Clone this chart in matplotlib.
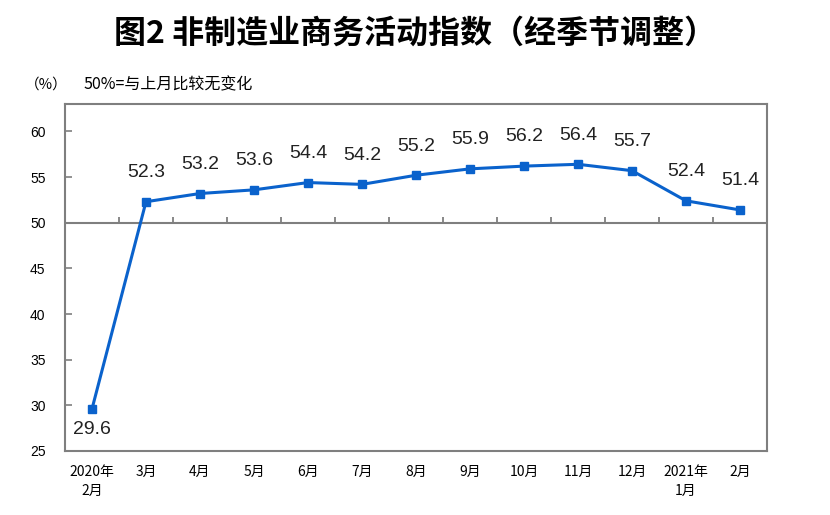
import matplotlib.pyplot as plt
import numpy as np

plt.rcParams['font.family'] = ['Noto Sans CJK SC', 'DejaVu Sans']

months = ['2020年\n2月', '3月', '4月', '5月', '6月', '7月', '8月', '9月',
          '10月', '11月', '12月', '2021年\n1月', '2月']
pmi = [29.6, 52.3, 53.2, 53.6, 54.4, 54.2, 55.2, 55.9, 56.2, 56.4, 55.7, 52.4, 51.4]
yticks = [25, 30, 35, 40, 45, 50, 55, 60]

blue = '#0A62CC'
frame = '#7F7F7F'

fig = plt.figure(figsize=(8.3, 5.15), dpi=100)
ax = fig.add_axes([0.0783, 0.1243, 0.8458, 0.6737])

x = np.arange(len(pmi))
ax.plot(x, pmi, color=blue, lw=2.2, marker='s', ms=6, zorder=3)

for i, v in enumerate(pmi):
    off = -15 if v < 50 else 21
    ax.annotate(f'{v:.1f}', (i, v), xytext=(0, off), textcoords='offset points',
                ha='center', va='center', fontsize=14, family='Liberation Sans',
                color='#222222')

# 50 line with small ticks between months
ax.axhline(50, color=frame, lw=1.5, zorder=2)
ax.vlines(x[:-1] + 0.5, 50, 50.6, color=frame, lw=1.3, zorder=2)

ax.set_xlim(-0.5, len(pmi) - 0.5)
ax.set_ylim(25, 63)
ax.set_yticks(yticks)
ax.set_yticklabels([str(t) for t in yticks], family='Liberation Sans', fontsize=10)
ax.tick_params(axis='y', direction='in', length=5, width=1.2, color=frame, pad=14)
ax.set_xticks(x)
ax.set_xticklabels(months, fontsize=10, fontweight='medium', linespacing=1.5)
ax.tick_params(axis='x', length=0, pad=10)
for s in ax.spines.values():
    s.set_color(frame)
    s.set_linewidth(1.5)

fig.text(0.5, 0.935, '图2 非制造业商务活动指数（经季节调整）', ha='center', va='center',
         fontsize=23, fontweight='bold')
fig.text(0.03, 0.835, '（%）', ha='left', va='center', fontsize=10.5)
fig.text(0.1, 0.835, '50%=与上月比较无变化', ha='left', va='center', fontsize=11.5)

fig.savefig('out.png', dpi=100)
